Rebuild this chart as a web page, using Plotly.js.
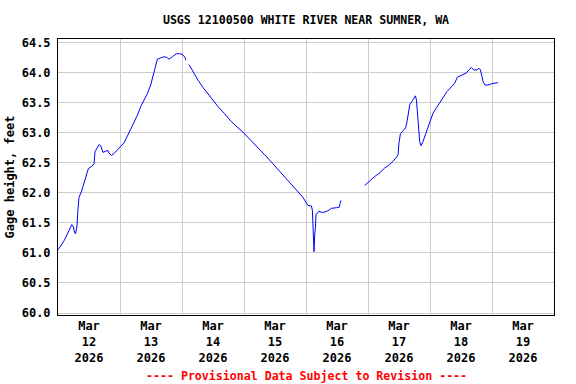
<!DOCTYPE html>
<html>
<head>
<meta charset="utf-8">
<script src="https://cdn.plot.ly/plotly-3.0.1.min.js"></script>
<style>
html, body { margin: 0; padding: 0; background: #ffffff; }
#chart { width: 576px; height: 384px; }
</style>
</head>
<body>
<div id="chart"></div>
<script>
// Observation times (local) and gage heights (feet); null marks a data gap
const times = [
  '2026-03-12 00:00','2026-03-12 02:20','2026-03-12 04:15','2026-03-12 05:18','2026-03-12 05:57',
  '2026-03-12 06:28','2026-03-12 06:50','2026-03-12 07:22','2026-03-12 07:38','2026-03-12 08:08',
  '2026-03-12 09:10','2026-03-12 10:04','2026-03-12 11:00','2026-03-12 11:45','2026-03-12 13:04',
  '2026-03-12 13:56','2026-03-12 14:20','2026-03-12 15:06','2026-03-12 15:52','2026-03-12 16:32',
  '2026-03-12 17:25','2026-03-12 18:27','2026-03-12 19:20','2026-03-12 19:44','2026-03-12 20:40',
  '2026-03-12 21:40','2026-03-12 23:00',
  '2026-03-13 00:16','2026-03-13 01:34','2026-03-13 02:51','2026-03-13 04:09','2026-03-13 05:25',
  '2026-03-13 06:45','2026-03-13 08:01','2026-03-13 09:17','2026-03-13 10:36','2026-03-13 11:53',
  '2026-03-13 12:33','2026-03-13 13:09','2026-03-13 13:50','2026-03-13 14:28','2026-03-13 15:45',
  '2026-03-13 17:02','2026-03-13 18:04','2026-03-13 18:58','2026-03-13 20:17','2026-03-13 21:50',
  '2026-03-13 23:07',
  '2026-03-14 00:09','2026-03-14 01:09','2026-03-14 01:26','2026-03-14 02:00','2026-03-14 02:43',
  '2026-03-14 04:15','2026-03-14 06:12','2026-03-14 08:08','2026-03-14 10:03','2026-03-14 12:00',
  '2026-03-14 13:57','2026-03-14 16:32','2026-03-14 19:08','2026-03-14 21:40',
  '2026-03-15 00:00','2026-03-15 02:51','2026-03-15 05:25','2026-03-15 08:01','2026-03-15 10:36',
  '2026-03-15 13:09','2026-03-15 15:45','2026-03-15 18:22','2026-03-15 20:54','2026-03-15 22:51',
  '2026-03-16 00:09','2026-03-16 00:46','2026-03-16 02:05','2026-03-16 02:28','2026-03-16 02:36',
  '2026-03-16 02:51','2026-03-16 03:06','2026-03-16 03:22','2026-03-16 03:39','2026-03-16 03:52',
  '2026-03-16 04:15','2026-03-16 04:55','2026-03-16 06:34','2026-03-16 08:31','2026-03-16 09:50',
  '2026-03-16 11:46','2026-03-16 12:56','2026-03-16 13:09','2026-03-16 13:34','2026-03-16 16:00',
  '2026-03-16 22:44',
  '2026-03-17 00:00','2026-03-17 01:19','2026-03-17 02:36','2026-03-17 04:32','2026-03-17 06:27',
  '2026-03-17 08:24','2026-03-17 09:40','2026-03-17 10:59','2026-03-17 11:37','2026-03-17 12:00',
  '2026-03-17 12:33','2026-03-17 13:34','2026-03-17 14:35','2026-03-17 15:06','2026-03-17 15:29',
  '2026-03-17 16:09','2026-03-17 17:11','2026-03-17 17:49','2026-03-17 18:22','2026-03-17 18:45',
  '2026-03-17 19:08','2026-03-17 19:38','2026-03-17 20:01','2026-03-17 20:31','2026-03-17 21:17',
  '2026-03-17 22:21','2026-03-17 23:14',
  '2026-03-18 00:09','2026-03-18 01:09','2026-03-18 02:28','2026-03-18 03:45','2026-03-18 05:02',
  '2026-03-18 06:34','2026-03-18 08:17','2026-03-18 09:33','2026-03-18 10:36','2026-03-18 11:30',
  '2026-03-18 12:46','2026-03-18 14:05','2026-03-18 14:58','2026-03-18 16:02','2026-03-18 16:55',
  '2026-03-18 18:12','2026-03-18 18:58','2026-03-18 19:31','2026-03-18 20:08','2026-03-18 20:31',
  '2026-03-18 21:17','2026-03-18 22:26','2026-03-18 23:45',
  '2026-03-19 01:03','2026-03-19 02:20'
];
const gageHeight = [
  61.05,61.20,61.37,61.47,61.43,
  61.33,61.32,61.45,61.67,61.92,
  62.03,62.17,62.33,62.40,62.44,
  62.48,62.68,62.74,62.80,62.78,
  62.67,62.69,62.70,62.66,62.62,
  62.65,62.71,
  62.76,62.83,62.94,63.05,63.16,
  63.29,63.43,63.54,63.65,63.79,
  63.90,64.04,64.15,64.22,64.24,
  64.26,64.25,64.22,64.26,64.31,
  64.31,
  64.30,64.25,64.20,null,64.13,
  64.01,63.87,63.75,63.64,63.53,
  63.43,63.31,63.18,63.08,
  62.99,62.86,62.75,62.63,62.51,
  62.39,62.26,62.14,62.03,61.92,
  61.83,61.79,61.78,61.71,61.56,
  61.31,61.02,61.31,61.42,61.64,
  61.65,61.69,61.67,61.70,61.74,
  61.75,61.76,61.82,61.87,null,
  62.12,
  62.17,62.22,62.27,62.33,62.41,
  62.47,62.52,62.59,62.63,62.83,
  62.98,63.03,63.08,63.18,63.32,
  63.46,63.53,63.57,63.61,63.54,
  63.32,63.05,62.85,62.78,62.85,
  62.98,63.10,
  63.21,63.32,63.41,63.49,63.57,
  63.68,63.76,63.82,63.92,63.94,
  63.97,63.99,64.04,64.08,64.04,
  64.04,64.07,64.04,63.93,63.85,
  63.79,63.79,63.81,
  63.82,63.83
];
const titleText = 'USGS 12100500 WHITE RIVER NEAR SUMNER, WA';
const yTitleText = 'Gage height, feet';
const footnoteText = '---- Provisional Data Subject to Revision ----';

const mono = 'DejaVu Sans Mono, Liberation Mono, monospace';

const trace = {
  x: times,
  y: gageHeight,
  type: 'scatter',
  mode: 'lines',
  connectgaps: false,
  line: { color: '#0000ff', width: 1 },
  hoverinfo: 'skip'
};

const layout = {
  width: 576,
  height: 384,
  margin: { l: 58, r: 22, t: 39, b: 69 },
  paper_bgcolor: '#ffffff',
  plot_bgcolor: '#ffffff',
  showlegend: false,
  font: { family: mono, size: 12, color: '#000000', weight: 'bold' },
  title: {
    text: titleText,
    x: 0.5, xref: 'paper', xanchor: 'center',
    y: 19, yref: 'container', yanchor: 'middle',
    font: { family: mono, size: 11.6, color: '#000000', weight: 'bold' }
  },
  xaxis: {
    type: 'date',
    range: ['2026-03-12 00:00', '2026-03-20 00:00'],
    tick0: '2026-03-12',
    dtick: 86400000,
    ticklabelmode: 'period',
    tickformat: '%b<br>%d<br>%Y',
    ticks: '',
    showgrid: true,
    gridcolor: '#cccccc',
    gridwidth: 1,
    showline: true,
    linecolor: '#000000',
    linewidth: 1,
    mirror: true,
    zeroline: false,
    tickfont: { family: mono, size: 12, color: '#000000', weight: 'bold' },
    fixedrange: true
  },
  yaxis: {
    range: [59.967, 64.555],
    tick0: 60,
    dtick: 0.5,
    tickformat: '.1f',
    ticks: '',
    ticklabelstandoff: 4,
    showgrid: true,
    gridcolor: '#cccccc',
    gridwidth: 1,
    showline: true,
    linecolor: '#000000',
    linewidth: 1,
    mirror: true,
    zeroline: false,
    tickfont: { family: mono, size: 12, color: '#000000', weight: 'bold' },
    title: {
      text: yTitleText,
      standoff: 4,
      font: { family: mono, size: 12, color: '#000000', weight: 'bold' }
    },
    fixedrange: true
  },
  annotations: [{
    text: footnoteText,
    xref: 'paper', x: 0.5, xanchor: 'center',
    yref: 'paper', y: -0.22, yanchor: 'middle',
    showarrow: false,
    font: { family: mono, size: 11.6, color: '#ff0000', weight: 'bold' }
  }]
};

Plotly.newPlot('chart', [trace], layout, { staticPlot: true, displayModeBar: false });
</script>
</body>
</html>
